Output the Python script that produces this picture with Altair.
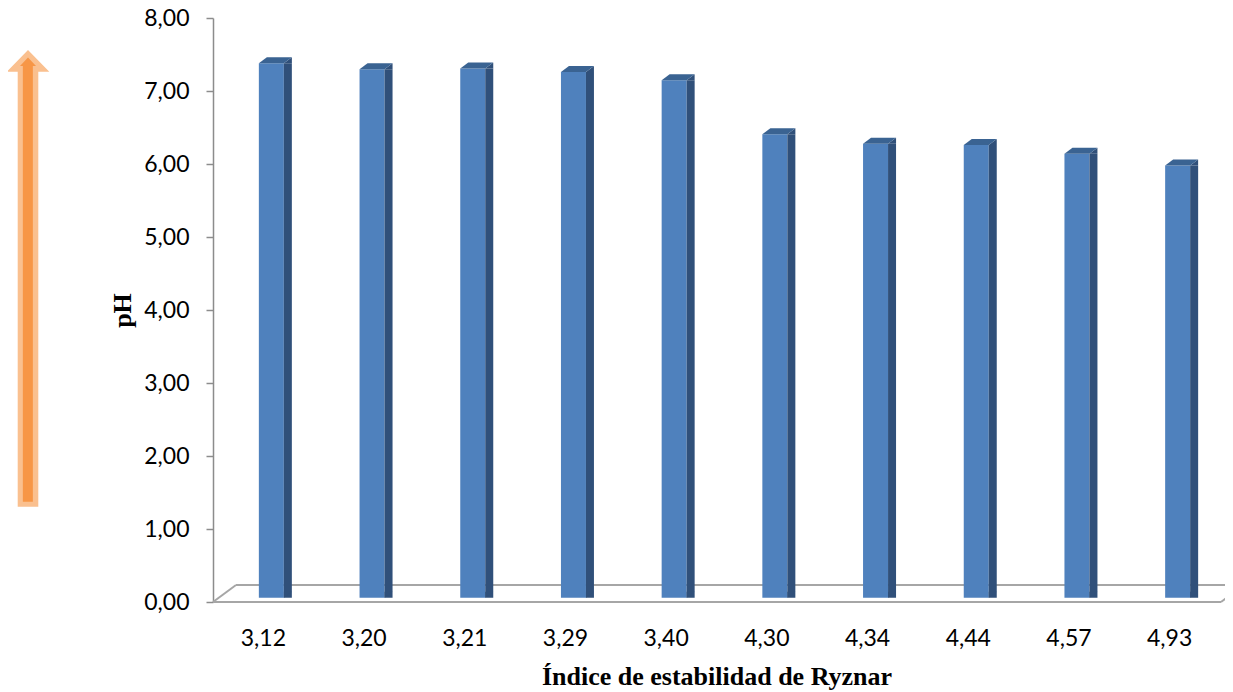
import altair as alt
import pandas as pd

# ---- data ----
ryznar = ["3,12", "3,20", "3,21", "3,29", "3,40", "4,30", "4,34", "4,44", "4,57", "4,93"]
ph = [7.32, 7.24, 7.25, 7.20, 7.09, 6.35, 6.22, 6.20, 6.08, 5.92]
y_ticks = [0, 1, 2, 3, 4, 5, 6, 7, 8]

df = pd.DataFrame({"ryznar": ryznar, "ph": ph})
dummy = pd.DataFrame({"a": [0]})

W, H = 1007, 584
FRONT = "#4F81BD"
SIDE = "#30507A"
TOP = "#3A6392"
FLOOR = "#A6A6A6"
LABEL_FONT = "Lato"
TITLE_FONT = "Liberation Serif"

x_enc = alt.X(
    "ryznar:N",
    sort=None,
    scale=alt.Scale(paddingInner=0, paddingOuter=0),
    axis=alt.Axis(
        title="Índice de estabilidad de Ryznar",
        domain=False, ticks=False, tickSize=0,
        labelAngle=0, labelFont=LABEL_FONT, labelFontSize=23, labelColor="#000000",
        labelPadding=43, labelBaseline="alphabetic",
        titleFont=TITLE_FONT, titleFontSize=26, titleFontWeight="bold", titleColor="#000000",
        titleBaseline="alphabetic", titleY=82,
    ),
)
y_scale = alt.Scale(domain=[0, 8], nice=False, zero=True)
y_enc = alt.Y(
    "ph:Q",
    scale=y_scale,
    axis=alt.Axis(
        title="pH", values=y_ticks, grid=False,
        labelExpr="replace(format(datum.value, '.2f'), '.', ',')",
        labelFont=LABEL_FONT, labelFontSize=23, labelColor="#000000", labelPadding=17,
        domainColor="#8C8C8C", domainWidth=1.5, tickColor="#8C8C8C", tickWidth=1.5, tickSize=7,
        titleFont=TITLE_FONT, titleFontSize=26, titleFontWeight="bold", titleColor="#000000",
        titleAngle=270, titleAlign="center", titleBaseline="middle", titleX=-91, titleY=292,
    ),
)

# ---- floor (decoration) ----
floor_front = alt.Chart(dummy).mark_rule(color=FLOOR, strokeWidth=2).encode(
    x=alt.value(0), x2=alt.value(1008), y=alt.value(H), y2=alt.value(H))
floor_left = alt.Chart(dummy).mark_rule(color=FLOOR, strokeWidth=2).encode(
    x=alt.value(0), x2=alt.value(23), y=alt.value(H), y2=alt.value(H - 17))
floor_back = alt.Chart(dummy).mark_rule(color=FLOOR, strokeWidth=2).encode(
    x=alt.value(23), x2=alt.value(1030), y=alt.value(H - 17), y2=alt.value(H - 17))
floor_right = alt.Chart(dummy).mark_rule(color=FLOOR, strokeWidth=2).encode(
    x=alt.value(1008), x2=alt.value(1031), y=alt.value(H), y2=alt.value(H - 17))

# ---- 3D bars ----
front = alt.Chart(df).mark_bar(size=25, xOffset=8, yOffset=-4.3, y2Offset=-4.3, color=FRONT).encode(
    x=x_enc, y=y_enc)
side = alt.Chart(df).mark_bar(size=8, xOffset=24.5, yOffset=-4.3, y2Offset=-10.3, color=SIDE).encode(
    x=x_enc, y=y_enc)
side_top = alt.Chart(df).mark_point(
    shape="M20.5,-4.3 L28.5,-10.3 L28.5,-4.3 Z", size=4, filled=True, opacity=1,
    color=SIDE, strokeWidth=0).encode(x=x_enc, y=y_enc)
side_bottom = alt.Chart(df).mark_point(
    shape="M20.5,-10.3 L20.5,-4.3 L28.5,-10.3 Z", size=4, filled=True, opacity=1,
    color=SIDE, strokeWidth=0).encode(x=x_enc, y=alt.datum(0))
top = alt.Chart(df).mark_point(
    shape="M-4.5,-4.3 L20.5,-4.3 L28.5,-10.3 L3.5,-10.3 Z", size=4, filled=True, opacity=1,
    color=TOP, strokeWidth=0).encode(x=x_enc, y=y_enc)

# ---- orange arrow (decoration, left of the axis) ----
arrow_outer = alt.Chart(dummy).mark_point(
    shape="M0,32 L21.3,53.7 L10.3,53.7 L10.3,488.7 L-10.3,488.7 L-10.3,53.7 L-21.3,53.7 Z",
    size=4, filled=True, opacity=1, color="#FAC08F", strokeWidth=0).encode(
    x=alt.value(-185), y=alt.value(0))
arrow_inner = alt.Chart(dummy).mark_point(
    shape="M0,39.5 L8,48 L4.85,48 L4.85,483.7 L-5.15,483.7 L-5.15,48 L-8,48 Z",
    size=4, filled=True, opacity=1, color="#F79646", strokeWidth=0).encode(
    x=alt.value(-185), y=alt.value(0))

chart = alt.layer(
    floor_left, floor_back, floor_right, floor_front,
    front, side, side_top, side_bottom, top,
    arrow_outer, arrow_inner,
).properties(
    width=W, height=H,
    autosize=alt.AutoSizeParams(type="none"),
    padding={"left": 205, "top": 10, "right": 5, "bottom": 90},
    background="#FFFFFF",
).configure_view(stroke=None)

chart.save("out.html", embed_options={"renderer": "svg", "actions": False})
